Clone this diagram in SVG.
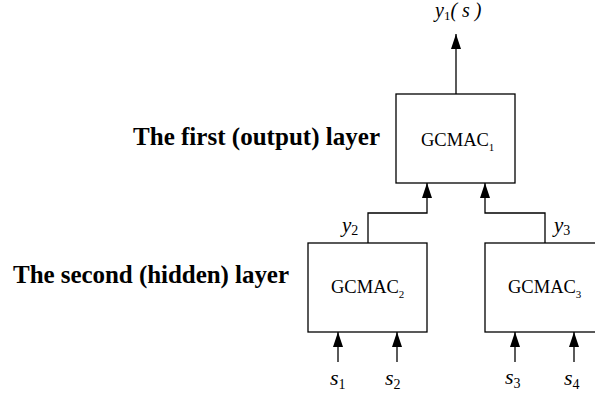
<svg xmlns="http://www.w3.org/2000/svg" width="595" height="394" viewBox="0 0 595 394">
<defs>
<marker id="ah" markerWidth="15" markerHeight="10" refX="15" refY="5" orient="auto" markerUnits="userSpaceOnUse" viewBox="0 0 15 10">
<path d="M0,0 L15,5 L0,10 Z" fill="#000"/>
</marker>
</defs>
<style>
.box{fill:#fff;stroke:#000;stroke-width:1.3}
.ln{fill:none;stroke:#000;stroke-width:1.3}
.nt{font-family:"Liberation Serif",serif;font-size:18.5px;fill:#000}
</style>
<rect width="595" height="394" fill="#fff"/>
<g font-family="Liberation Serif, serif" fill="#000" font-weight="bold" font-size="25">
<text x="133" y="145" textLength="247">The first (output) layer</text>
<text x="13" y="283" textLength="276">The second (hidden) layer</text>
</g>
<g id="n1">
<rect class="box" x="396" y="94" width="119" height="89"/>
<text x="421" y="146" font-family="Liberation Serif, serif" font-size="18.5">GCMAC<tspan font-size="11" dy="5">1</tspan></text>
</g>
<g id="n2">
<rect class="box" x="308" y="243" width="119" height="89"/>
<text x="331" y="293" font-family="Liberation Serif, serif" font-size="18.5">GCMAC<tspan font-size="11" dy="5">2</tspan></text>
</g>
<g id="n3">
<rect class="box" x="485" y="243" width="119" height="89"/>
<text x="508" y="293" font-family="Liberation Serif, serif" font-size="18.5">GCMAC<tspan font-size="11" dy="5">3</tspan></text>
</g>
<g id="connectors">
<path class="ln" d="M456,94 V34" marker-end="url(#ah)"/>
<path class="ln" d="M368,243 V213 H427 V183" marker-end="url(#ah)"/>
<path class="ln" d="M545,243 V213 H485 V183" marker-end="url(#ah)"/>
<path class="ln" d="M338,362 V332" marker-end="url(#ah)"/>
<path class="ln" d="M397,362 V332" marker-end="url(#ah)"/>
<path class="ln" d="M515,362 V332" marker-end="url(#ah)"/>
<path class="ln" d="M574,362 V332" marker-end="url(#ah)"/>
</g>
<g id="labels" font-family="Liberation Serif, serif" font-style="italic" font-size="20" fill="#000">
<text x="435" y="17">y<tspan font-style="normal" font-size="13" dy="3">1</tspan><tspan dy="-3">( s )</tspan></text>
<text x="342" y="232" font-size="21">y<tspan font-style="normal" font-size="14" dy="3">2</tspan></text>
<text x="554" y="232" font-size="21">y<tspan font-style="normal" font-size="14" dy="3">3</tspan></text>
<text x="330" y="385" font-size="22">s<tspan font-style="normal" font-size="14" dy="4">1</tspan></text>
<text x="385" y="385" font-size="22">s<tspan font-style="normal" font-size="14" dy="4">2</tspan></text>
<text x="505" y="384" font-size="22">s<tspan font-style="normal" font-size="14" dy="4">3</tspan></text>
<text x="564" y="385" font-size="22">s<tspan font-style="normal" font-size="14" dy="4">4</tspan></text>
</g>
</svg>
